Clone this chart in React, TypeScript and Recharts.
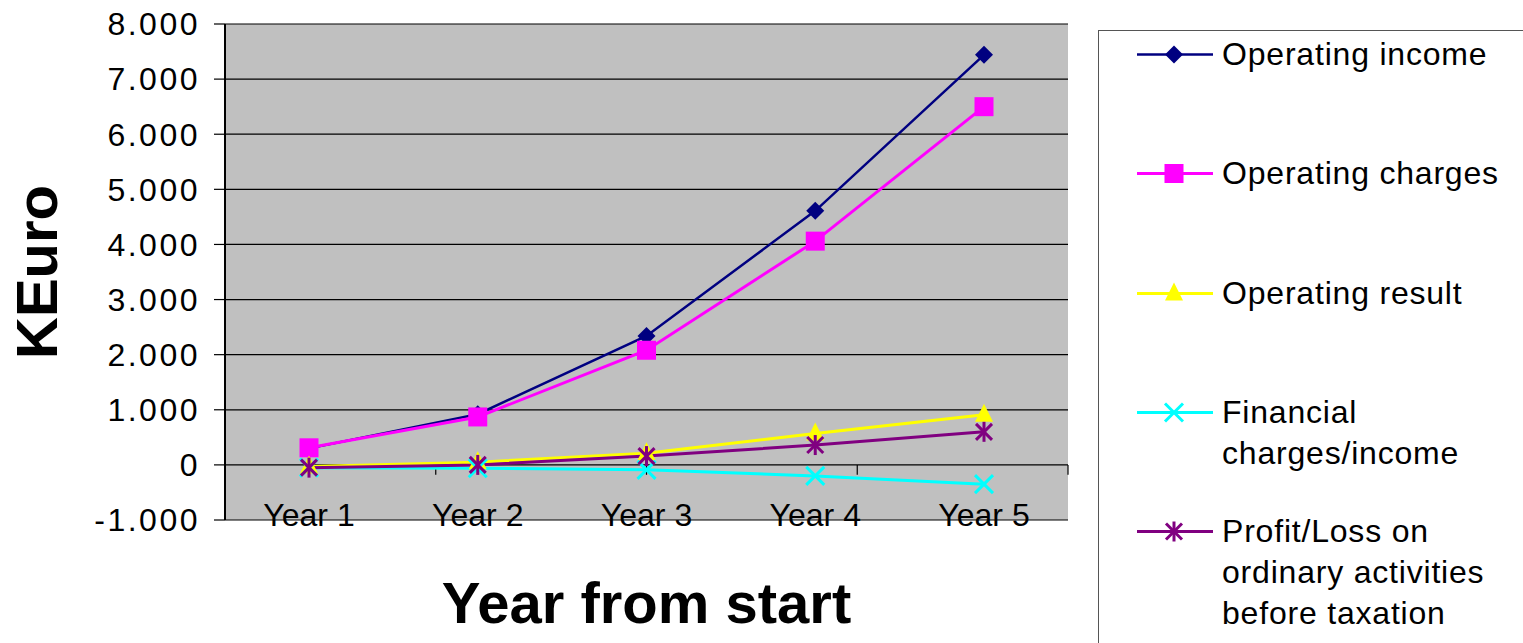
import React from 'react';
import {
  LineChart,
  Line,
  XAxis,
  YAxis,
  CartesianGrid,
  ReferenceLine,
  ReferenceArea,
} from 'recharts';

const years = ['Year 1', 'Year 2', 'Year 3', 'Year 4', 'Year 5'];
const operatingIncome = [300, 920, 2340, 4610, 7440];
const operatingCharges = [310, 870, 2080, 4060, 6500];
const operatingResult = [-30, 50, 210, 570, 910];
const financialCharges = [-50, -60, -90, -200, -350];
const profitLoss = [-50, 0, 160, 360, 600];
const yTicks = [-1000, 0, 1000, 2000, 3000, 4000, 5000, 6000, 7000, 8000];
// category boundaries on the hidden 0..5 axis, for the small ticks under the zero line
const categoryEdges = [1, 2, 3, 4, 5];

const FONT = "Arial, 'Liberation Sans', sans-serif";

type Shape = 'diamond' | 'square' | 'triangle' | 'cross' | 'star';

const series: { key: string; label: string[]; color: string; width: number; shape: Shape }[] = [
  { key: 'income', label: ['Operating income'], color: '#000080', width: 2.5, shape: 'diamond' },
  { key: 'charges', label: ['Operating charges'], color: '#FF00FF', width: 3, shape: 'square' },
  { key: 'result', label: ['Operating result'], color: '#FFFF00', width: 3, shape: 'triangle' },
  { key: 'financial', label: ['Financial', 'charges/income'], color: '#00FFFF', width: 3, shape: 'cross' },
  {
    key: 'profit',
    label: ['Profit/Loss on', 'ordinary activities', 'before taxation'],
    color: '#800080',
    width: 3,
    shape: 'star',
  },
];

const chartData = years.map((year, i) => ({
  year,
  income: operatingIncome[i],
  charges: operatingCharges[i],
  result: operatingResult[i],
  financial: financialCharges[i],
  profit: profitLoss[i],
}));

function Marker({ shape, cx, cy, color }: { shape: Shape; cx: number; cy: number; color: string }) {
  switch (shape) {
    case 'diamond':
      return <polygon points={`${cx},${cy - 9} ${cx + 9},${cy} ${cx},${cy + 9} ${cx - 9},${cy}`} fill={color} />;
    case 'square':
      return <rect x={cx - 9.5} y={cy - 9.5} width={19} height={19} fill={color} />;
    case 'triangle':
      return <polygon points={`${cx},${cy - 11} ${cx + 9},${cy + 7} ${cx - 9},${cy + 7}`} fill={color} />;
    case 'cross':
      return (
        <g stroke={color} strokeWidth={3}>
          <line x1={cx - 9} y1={cy - 9} x2={cx + 9} y2={cy + 9} />
          <line x1={cx - 9} y1={cy + 9} x2={cx + 9} y2={cy - 9} />
        </g>
      );
    default:
      return (
        <g stroke={color} strokeWidth={3}>
          <line x1={cx - 8} y1={cy - 8} x2={cx + 8} y2={cy + 8} />
          <line x1={cx - 8} y1={cy + 8} x2={cx + 8} y2={cy - 8} />
          <line x1={cx} y1={cy - 10} x2={cx} y2={cy + 10} />
        </g>
      );
  }
}

const formatThousands = (v: number) => {
  if (v === 0) return '0';
  const sign = v < 0 ? '-' : '';
  const abs = Math.abs(v);
  return sign + Math.floor(abs / 1000) + '.' + String(abs % 1000).padStart(3, '0');
};

function YearTick(props: any) {
  const { x, y, payload } = props;
  return (
    <text x={x} y={y} dy={6} textAnchor="middle" fontSize={32} fontFamily={FONT} fill="#000">
      {payload.value}
    </text>
  );
}

const xTitle = (props: any) => {
  const { viewBox } = props;
  return (
    <text
      x={viewBox.x + viewBox.width / 2}
      y={623}
      textAnchor="middle"
      fontSize={58}
      fontWeight="bold"
      fontFamily={FONT}
      fill="#000"
    >
      Year from start
    </text>
  );
};

const yTitle = (props: any) => {
  const { viewBox } = props;
  const cy = viewBox.y + viewBox.height / 2;
  return (
    <text
      x={57}
      y={cy}
      transform={`rotate(-90, 57, ${cy})`}
      textAnchor="middle"
      fontSize={58}
      fontWeight="bold"
      fontFamily={FONT}
      fill="#000"
    >
      KEuro
    </text>
  );
};

function LegendBox() {
  return (
    <div
      style={{
        position: 'absolute',
        left: 1098,
        top: 30,
        width: 460,
        height: 640,
        border: '1px solid #555',
        boxSizing: 'border-box',
      }}
    >
      {series.map((s, i) => (
        <div key={s.key} style={{ position: 'absolute', left: 0, top: 3 + i * 119.3 }}>
          <svg width={80} height={41} style={{ position: 'absolute', left: 38, top: 0 }}>
            <line x1={0} y1={20.5} x2={76} y2={20.5} stroke={s.color} strokeWidth={s.width} />
            <Marker shape={s.shape} cx={37} cy={20.5} color={s.color} />
          </svg>
          <div
            style={{
              position: 'absolute',
              left: 123,
              top: 0,
              fontFamily: FONT,
              fontSize: 32,
              lineHeight: '41px',
              letterSpacing: 0.8,
              whiteSpace: 'nowrap',
              color: '#000',
            }}
          >
            {s.label.map((t) => (
              <div key={t}>{t}</div>
            ))}
          </div>
        </div>
      ))}
    </div>
  );
}

export default function App() {
  return (
    <div
      style={{
        position: 'absolute',
        left: 0,
        top: 0,
        width: 1523,
        height: 643,
        overflow: 'hidden',
        background: '#fff',
      }}
    >
      <LineChart width={1523} height={643} data={chartData} margin={{ top: 24, right: 455, bottom: 93, left: 0 }}>
        <CartesianGrid vertical={false} fill="#C0C0C0" stroke="#000" strokeWidth={1.2} />
        <XAxis
          dataKey="year"
          height={30}
          padding={{ left: 84, right: 84 }}
          axisLine={false}
          tickLine={false}
          tickSize={0}
          tickMargin={0}
          tick={<YearTick />}
          label={xTitle}
        />
        <XAxis xAxisId="edges" type="number" domain={[0, 5]} hide />
        <YAxis
          width={225}
          domain={[-1000, 8000]}
          ticks={yTicks}
          interval={0}
          tickFormatter={formatThousands}
          tickSize={11}
          tickMargin={14}
          axisLine={{ stroke: '#000', strokeWidth: 2 }}
          tickLine={{ stroke: '#000', strokeWidth: 1.2 }}
          tick={{ fontSize: 32, fontFamily: FONT, fill: '#000', letterSpacing: 2.5 }}
          label={yTitle}
        />
        <ReferenceArea
          xAxisId="edges"
          x1={0}
          x2={5}
          y1={-1000}
          y2={8000}
          fill="none"
          stroke="#808080"
          strokeWidth={2}
        />
        {categoryEdges.map((e) => (
          <ReferenceLine
            key={e}
            xAxisId="edges"
            segment={[
              { x: e, y: 0 },
              { x: e, y: -180 },
            ]}
            stroke="#000"
            strokeWidth={1.2}
          />
        ))}
        {series.map((s) => (
          <Line
            key={s.key}
            dataKey={s.key}
            name={s.label.join(' ')}
            type="linear"
            stroke={s.color}
            strokeWidth={s.width}
            isAnimationActive={false}
            activeDot={false}
            dot={(p: any) => <Marker key={`${s.key}-${p.index}`} shape={s.shape} cx={p.cx} cy={p.cy} color={s.color} />}
          />
        ))}
      </LineChart>
      <LegendBox />
    </div>
  );
}
